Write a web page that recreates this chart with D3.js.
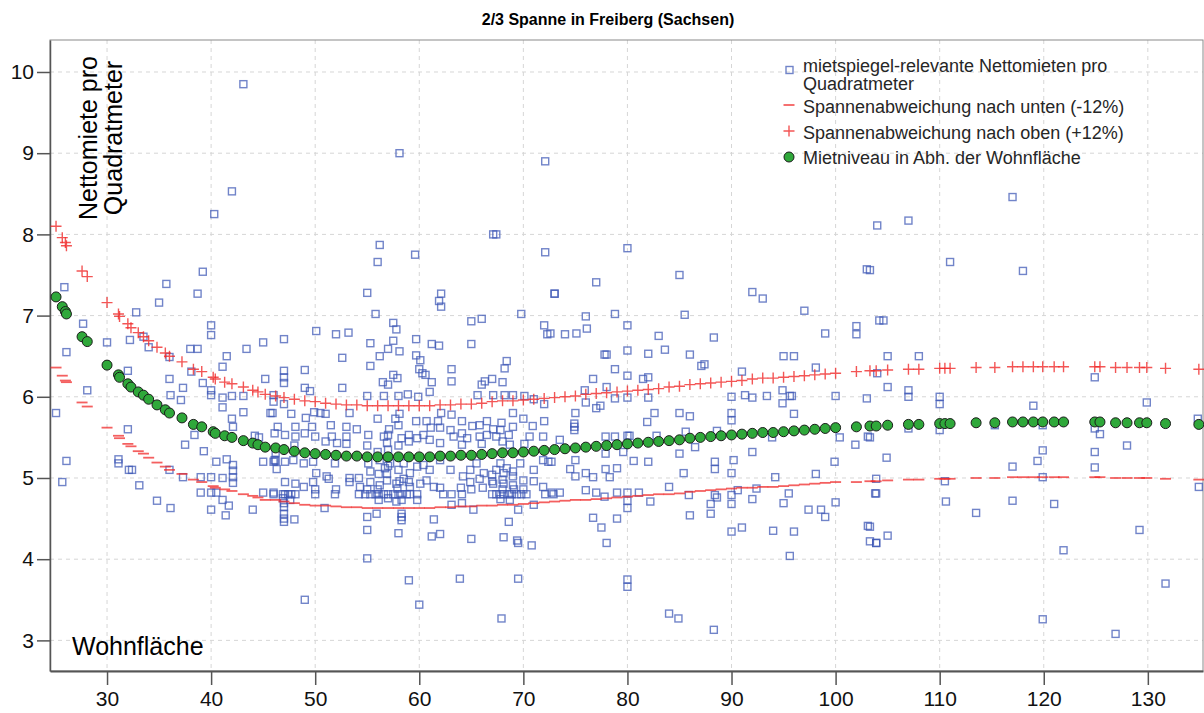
<!DOCTYPE html>
<meta charset="utf-8">
<style>
body { margin: 0; background: #fff; }
svg { font-family: "Liberation Sans", Arial, sans-serif; }
.grid line { stroke: #d6d6d6; stroke-dasharray: 4,4; }
.axis path, .axis line { stroke: #555; }
.axis text { fill: #111; font-size: 21px; }
.scatter rect { fill: none; stroke: #3a55b4; stroke-opacity: 0.72; stroke-width: 1.4; }
.upper path { stroke: #f02b2b; stroke-opacity: 0.8; stroke-width: 1.4; fill: none; }
.lower path { stroke: #f02b2b; stroke-opacity: 0.75; stroke-width: 1.8; fill: none; }
.fit circle { fill: #2fa83a; stroke: #1b1b1b; stroke-width: 1; }
.legend text { fill: #262626; font-size: 18px; }
</style>
<svg width="1204" height="713"></svg>
<script src="https://d3js.org/d3.v7.min.js"></script>
<script>

var areaTicks = [30, 40, 50, 60, 70, 80, 90, 100, 110, 120, 130];
var rentTicks = [3, 4, 5, 6, 7, 8, 9, 10];

// observed rents per square metre: [Wohnfläche, Nettomiete/qm]
var rentPoints = [
	[43.1,9.85],[42.0,8.53],[40.3,8.25],[39.2,7.54],[58.1,9.0],[72.1,8.9],[56.2,7.87],[59.6,7.75],
	[72.1,7.78],[80.0,7.83],[67.1,8.0],[67.4,8.0],
	[25.9,7.35],[35.7,7.39],[38.7,7.27],[35.0,7.16],[32.8,7.04],[27.7,6.9],[40.0,6.88],[40.0,6.76],
	[30.0,6.67],[32.2,6.70],[33.5,6.74],[34.0,6.61],[45.0,6.67],[43.4,6.59],[38.0,6.59],[38.7,6.59],
	[41.5,6.50],[26.1,6.55],[36.0,6.49],[41.1,6.37],[32.0,6.32],[38.1,6.31],[45.2,6.22],[36.0,6.22],
	[39.2,6.17],[37.3,6.11],[28.1,6.08],[40.0,6.08],[36.1,6.02],[37.1,5.96],[40.0,6.02],[41.1,5.99],
	[42.0,6.01],[43.1,6.01],[41.1,5.87],[43.1,5.81],[45.7,5.80],[25.1,5.80],[42.0,5.73],[46.0,5.94],
	[42.1,5.63],[32.0,5.60],[38.4,5.53],[37.5,5.41],[39.3,5.33],[44.2,5.52],[44.6,5.50],[31.1,5.23],
	[31.1,5.18],[26.1,5.21],[41.5,5.23],[40.5,5.20],[42.1,5.16],[42.1,5.09],[42.1,5.01],[42.1,4.94],
	[45.0,5.20],[46.0,5.20],[32.1,5.10],[32.4,5.10],[36.0,5.10],[37.3,5.01],[39.0,5.01],[40.0,5.01],
	[41.1,5.00],[25.7,4.95],[33.1,4.91],[39.0,4.82],[40.0,4.82],[40.5,4.82],[41.1,4.73],[45.0,4.82],
	[46.0,4.82],[34.8,4.72],[36.1,4.63],[40.0,4.61],[41.4,4.54],[41.7,4.66],[44.0,4.61],[46.2,5.31],
	[46.2,5.21],[46.3,5.11],
	[56.0,7.66],[55.0,7.28],[62.1,7.27],[61.9,7.18],[62.1,7.11],[73.0,7.27],[55.8,7.02],[69.8,7.02],
	[57.5,6.91],[57.8,6.83],[65.0,6.93],[66.0,6.96],[72.0,6.88],[72.3,6.77],[50.1,6.81],[52.0,6.77],
	[53.2,6.79],[47.0,6.71],[55.3,6.66],[57.5,6.69],[59.7,6.71],[61.2,6.65],[61.9,6.63],[65.0,6.65],
	[57.0,6.59],[58.1,6.56],[56.2,6.50],[52.6,6.48],[59.7,6.51],[60.1,6.45],[68.4,6.44],[68.2,6.35],
	[55.3,6.38],[49.0,6.33],[47.0,6.32],[47.0,6.24],[47.0,6.17],[60.0,6.34],[60.3,6.29],[63.1,6.34],
	[63.1,6.19],[57.5,6.27],[57.9,6.23],[56.5,6.18],[57.0,6.15],[60.6,6.27],[61.2,6.18],[67.0,6.22],
	[66.3,6.19],[66.0,6.15],[68.0,6.18],[49.0,6.11],[49.5,6.07],[52.6,6.11],[61.0,6.06],[55.0,6.01],
	[56.6,6.01],[58.0,6.01],[58.9,6.03],[59.9,6.00],[65.6,6.02],[67.1,6.02],[68.2,6.02],[69.0,6.02],
	[70.1,6.01],[71.0,5.97],[72.0,5.91],[46.0,6.02],[47.0,5.91],[45.9,5.80],[47.7,5.79],[49.9,5.81],
	[50.5,5.80],[51.0,5.79],[53.3,5.80],[49.1,5.74],[56.0,5.73],[57.7,5.73],[58.1,5.79],[62.1,5.80],
	[63.1,5.78],[69.0,5.80],[66.5,5.70],[70.0,5.73],[72.0,5.70],[46.4,5.63],[48.1,5.63],[49.7,5.63],
	[51.5,5.65],[53.0,5.63],[59.7,5.70],[60.7,5.70],[61.8,5.70],[64.1,5.70],[65.1,5.64],[65.8,5.65],
	[67.9,5.68],[69.0,5.63],[70.9,5.64],
	[46.1,5.55],[47.1,5.53],[48.1,5.51],[49.0,5.55],[50.0,5.51],[51.6,5.51],[52.1,5.43],[53.0,5.51],
	[55.1,5.53],[56.6,5.51],[57.0,5.53],[56.9,5.43],[58.3,5.49],[59.0,5.53],[59.8,5.49],[60.4,5.53],
	[61.0,5.47],[62.0,5.43],[63.0,5.59],[63.3,5.51],[64.1,5.55],[64.1,5.41],[64.6,5.49],[65.8,5.51],
	[66.5,5.53],[67.4,5.51],[67.8,5.59],[68.6,5.53],[68.7,5.41],[70.6,5.51],[71.9,5.51],
	[46.1,5.22],[47.1,5.20],[47.9,5.22],[48.9,5.18],[49.8,5.20],[50.1,5.06],[51.1,5.02],[51.9,5.18],
	[53.3,5.00],[54.2,5.00],[55.1,5.18],[55.3,5.08],[56.2,5.22],[56.7,5.12],[57.2,5.18],[58.0,5.10],
	[58.5,5.18],[59.1,5.06],[59.8,5.14],[60.4,5.16],[61.0,5.10],[62.0,5.22],[63.0,5.10],[64.2,5.02],
	[64.9,5.10],[65.5,5.18],[66.2,5.06],[67.4,5.10],[67.8,5.18],[68.4,5.12],[69.0,5.02],[69.7,5.18],
	[71.0,5.10],[71.9,5.22],[72.4,5.20],
	[56.9,5.05],[57.0,5.15],[57.0,5.35],[57.1,5.60],[57.9,4.87],[58.0,5.40],[58.0,5.65],[58.1,4.96],
	[56.0,4.86],[56.1,5.05],[56.0,5.32],[59.0,4.95],[59.0,5.45],[68.0,4.86],[68.0,4.98],[68.1,5.06],
	[68.0,5.45],[67.0,4.96],[67.0,5.04],[67.1,5.60],[69.1,4.86],[69.0,5.08],[66.1,4.88],[66.0,5.42],
	[55.0,4.86],[55.0,5.40],[54.0,5.60],[53.0,5.42],[62.0,4.88],[62.0,5.62],[61.1,5.62],[64.0,4.88],
	[65.0,4.86],[70.0,4.86],[70.1,5.42],[71.0,4.96],[50.0,4.86],[52.0,4.86],[51.0,5.45],[48.0,5.40],
	[47.1,4.95],[48.1,4.93],[48.9,4.89],[49.8,4.95],[51.3,4.99],[53.3,4.95],[54.3,4.89],[55.3,4.95],
	[56.2,4.91],[56.9,4.97],[57.8,4.93],[58.5,4.99],[59.1,4.89],[60.1,4.93],[60.7,4.97],[61.4,4.89],
	[64.9,4.95],[65.8,4.99],[67.1,4.93],[68.1,4.93],[69.0,4.91],[70.0,4.97],[71.9,4.89],
	[46.0,4.8],[46.9,4.8],[47.1,4.8],[47.4,4.8],[47.7,4.8],[48.1,4.8],[50.0,4.8],[51.9,4.8],
	[54.2,4.8],[54.8,4.8],[55.3,4.8],[55.8,4.8],[56.1,4.8],[56.6,4.8],[57.0,4.8],[57.5,4.8],
	[58.0,4.8],[58.3,4.8],[58.8,4.8],[59.1,4.8],[59.8,4.8],[62.3,4.8],[63.1,4.8],[64.1,4.8],
	[67.0,4.8],[67.4,4.8],[67.8,4.8],[68.1,4.8],[68.6,4.8],[68.9,4.8],[69.4,4.8],[69.8,4.8],
	[70.3,4.8],[72.1,4.8],[72.9,4.8],
	[46.9,4.75],[47.6,4.73],[56.1,4.73],[57.0,4.75],[57.8,4.71],[58.3,4.73],[59.8,4.73],[67.8,4.74],
	[68.7,4.73],
	[47.0,4.69],[47.0,4.64],[47.0,4.56],[47.0,4.50],[47.0,4.46],[48.0,4.49],[50.9,4.63],[55.0,4.52],
	[55.9,4.56],[58.3,4.56],[58.3,4.52],[58.3,4.48],[61.4,4.49],[63.1,4.67],[64.1,4.69],[65.2,4.61],
	[68.6,4.46],[69.5,4.61],[71.0,4.67],[55.0,4.36],[58.0,4.32],[61.2,4.28],[62.0,4.31],[65.0,4.25],
	[68.1,4.27],[69.4,4.23],[69.5,4.20],[70.8,4.17],[55.0,4.01],[59.0,3.74],[63.9,3.76],[69.5,3.76],
	[85.0,7.50],[77.0,7.41],[103.0,7.57],[73.0,7.27],[92.0,7.29],[93.0,7.21],[97.0,7.06],[76.0,6.99],
	[76.1,6.84],[78.8,7.02],[80.0,6.88],[85.5,7.01],[74.0,6.77],[75.1,6.78],[83.0,6.75],[88.3,6.73],
	[99.0,6.78],[102.0,6.87],[102.0,6.77],[72.6,6.78],[104.2,6.94],[77.8,6.52],[78.0,6.52],[80.0,6.57],
	[82.0,6.53],[83.6,6.58],[86.0,6.52],[87.1,6.38],[87.4,6.40],[95.0,6.50],[96.0,6.50],[91.0,6.31],
	[98.1,6.36],[78.8,6.34],[80.0,6.26],[76.7,6.22],[81.5,6.22],[82.0,6.24],[75.9,6.08],[78.0,6.12],
	[76.0,5.93],[77.0,5.86],[77.4,5.89],[78.8,5.98],[80.0,5.99],[82.0,5.99],[90.0,6.00],[91.3,6.02],
	[92.0,5.99],[93.4,6.01],[94.9,6.08],[94.9,5.92],[95.6,6.01],[95.8,6.01],[100.0,6.01],[103.0,5.98],
	[75.0,5.80],[74.9,5.67],[74.9,5.63],[74.9,5.59],[82.6,5.80],[85.0,5.80],[86.0,5.76],[81.9,5.69],
	[90.0,5.80],[90.0,5.71],[96.0,5.79],[73.5,5.47],[77.9,5.51],[78.8,5.51],[80.0,5.52],[80.2,5.52],
	[82.8,5.52],[85.6,5.57],[88.6,5.58],[93.9,5.50],[100.4,5.50],[103.1,5.51],[101.9,5.41],
	[72.7,5.20],[75.0,5.22],[77.9,5.30],[79.6,5.32],[80.6,5.21],[82.0,5.20],[85.0,5.30],[86.5,5.38],
	[88.4,5.20],[90.2,5.22],[92.0,5.32],[99.9,5.20],
	[74.5,5.11],[75.0,5.02],[76.0,5.06],[76.7,5.01],[77.9,5.11],[78.3,5.01],[79.0,5.12],[85.4,5.06],
	[88.4,5.11],[90.0,5.06],[94.2,5.01],[98.1,5.05],
	[72.7,4.82],[73.5,4.82],[76.0,4.85],[77.0,4.82],[77.8,4.77],[79.0,4.82],[80.0,4.82],[81.1,4.82],
	[84.0,4.89],[85.9,4.79],[88.4,4.79],[88.6,4.76],[90.0,4.79],[90.6,4.85],[92.4,4.87],[92.0,4.74],
	[95.5,4.81],[103.8,4.81],
	[80.0,4.72],[80.0,4.63],[82.2,4.71],[88.0,4.68],[90.0,4.68],[95.0,4.69],[100.0,4.70],
	[76.7,4.51],[79.0,4.50],[86.0,4.54],[88.0,4.56],[97.4,4.61],[98.6,4.61],[99.0,4.52],
	[77.5,4.39],[78.0,4.20],[90.0,4.34],[91.0,4.39],[94.0,4.35],[96.0,4.34],[103.1,4.41],[103.3,4.22],
	[103.9,4.20],[95.6,4.04],
	[117.0,8.46],[104.0,8.11],[107.0,8.17],[111.0,7.66],[118.0,7.55],[103.3,7.56],[104.6,6.94],
	[105.0,6.50],[108.0,6.50],[105.0,6.12],[107.0,6.08],[107.0,6.00],[110.0,6.00],[110.0,5.91],
	[124.9,6.24],[119.0,5.89],[129.9,5.93],[134.8,5.73],[104.0,6.29],[103.3,5.50],[104.9,5.25],
	[115.3,5.65],[107.0,5.61],[110.0,5.59],[119.9,5.65],[124.9,5.61],[125.4,5.54],[119.9,5.34],
	[128.0,5.40],[119.4,5.21],[124.9,5.32],[124.9,5.13],[117.0,5.14],[103.9,4.99],[110.5,4.96],
	[119.9,5.01],[134.9,4.89],[103.9,4.81],[110.6,4.71],[117.0,4.72],[121.0,4.68],[113.5,4.57],
	[129.2,4.36],[103.3,4.40],[105.0,4.29],[103.9,4.20],[121.9,4.11],
	[131.7,3.70],[80.0,3.75],[80.0,3.66],[49.0,3.50],[60.0,3.44],[67.9,3.27],[84.0,3.33],[84.9,3.27],
	[88.3,3.13],[119.9,3.26],[126.9,3.08]
];

// Mietniveau in Abh. der Wohnfläche (fitted rent level)
var fitArea = [25.1, 25.7, 26.0, 26.1, 27.6, 28.1, 30.0, 31.1, 31.2, 32.0, 32.3, 33.0, 33.5, 34.0, 34.8,
	35.6, 36.0, 37.2, 38.3, 39.1, 40.2, 40.4, 41.3, 42.0, 43.1, 44.0, 44.5, 45.2, 46.2, 47, 48, 49, 50,
	51, 52, 53, 54, 55, 56, 57, 58, 59, 60, 61, 62, 63, 64, 65, 66, 67, 68, 69, 70, 71, 72, 73, 74, 75,
	76, 77, 78, 79, 80, 81, 82, 83, 84, 85, 86, 87, 88, 89, 90, 91, 92, 93, 94, 95, 96, 97, 98, 99, 100,
	102, 103.3, 103.9, 105.0, 107.0, 108.0, 110.0, 110.5, 111.0, 113.5, 115.3, 117.0, 118.0, 119.0,
	119.9, 121.0, 121.9, 124.9, 125.4, 126.9, 128.0, 129.2, 129.9, 131.7, 134.9];
var fitRent = [7.23, 7.11, 7.05, 7.02, 6.74, 6.68, 6.39, 6.27, 6.24, 6.16, 6.12, 6.06, 6.02, 5.97, 5.90,
	5.84, 5.80, 5.74, 5.66, 5.63, 5.57, 5.55, 5.52, 5.50, 5.46, 5.43, 5.41, 5.38, 5.37, 5.35, 5.33, 5.31, 5.30,
	5.29, 5.28, 5.27, 5.27, 5.26, 5.26, 5.26, 5.26, 5.26, 5.26, 5.26, 5.27, 5.27, 5.28, 5.28, 5.29, 5.30, 5.31, 5.31, 5.32, 5.33, 5.34, 5.35, 5.36, 5.37,
	5.38, 5.39, 5.40, 5.41, 5.42, 5.43, 5.44, 5.45, 5.46, 5.47, 5.49, 5.50, 5.51, 5.52, 5.53, 5.54, 5.55, 5.56, 5.56, 5.57, 5.58, 5.59, 5.60, 5.61, 5.62,
	5.63, 5.64, 5.64, 5.65, 5.66, 5.66, 5.67, 5.67, 5.67, 5.68, 5.68, 5.69, 5.69, 5.69,
	5.69, 5.69, 5.69, 5.69, 5.69, 5.68, 5.68, 5.68, 5.68, 5.67, 5.66];
// Spannenabweichung nach oben (+12%)
var upperRent = [8.10, 7.96, 7.90, 7.86, 7.55, 7.48, 7.16, 7.02, 6.99, 6.90, 6.85, 6.79, 6.74, 6.69, 6.61,
	6.54, 6.50, 6.43, 6.34, 6.31, 6.24, 6.22, 6.18, 6.16, 6.12, 6.08, 6.06, 6.03, 6.01, 5.99, 5.97, 5.95, 5.94,
	5.92, 5.91, 5.90, 5.90, 5.89, 5.89, 5.89, 5.89, 5.89, 5.89, 5.89, 5.90, 5.90, 5.91, 5.91, 5.92, 5.94, 5.95, 5.95, 5.96, 5.97, 5.98, 5.99, 6.00, 6.01,
	6.03, 6.04, 6.05, 6.06, 6.07, 6.08, 6.09, 6.10, 6.12, 6.13, 6.15, 6.16, 6.17, 6.18, 6.19, 6.20, 6.22, 6.23, 6.23, 6.24, 6.25, 6.26, 6.27, 6.28, 6.29,
	6.31, 6.32, 6.32, 6.33, 6.34, 6.34, 6.35, 6.35, 6.35, 6.36, 6.36, 6.37, 6.37, 6.37,
	6.37, 6.37, 6.37, 6.37, 6.37, 6.36, 6.36, 6.36, 6.36, 6.35, 6.34];
// Spannenabweichung nach unten (-12%)
var lowerRent = [6.36, 6.26, 6.20, 6.18, 5.93, 5.88, 5.62, 5.52, 5.49, 5.42, 5.39, 5.33, 5.30, 5.25, 5.19,
	5.14, 5.10, 5.05, 4.98, 4.95, 4.90, 4.88, 4.86, 4.84, 4.80, 4.78, 4.76, 4.73, 4.73, 4.71, 4.69, 4.67, 4.66,
	4.66, 4.65, 4.64, 4.64, 4.63, 4.63, 4.63, 4.63, 4.63, 4.63, 4.63, 4.64, 4.64, 4.65, 4.65, 4.66, 4.66, 4.67, 4.67, 4.68, 4.69, 4.70, 4.71, 4.72, 4.73,
	4.73, 4.74, 4.75, 4.76, 4.77, 4.78, 4.79, 4.80, 4.80, 4.81, 4.83, 4.84, 4.85, 4.86, 4.87, 4.88, 4.88, 4.89, 4.89, 4.90, 4.91, 4.92, 4.93, 4.94, 4.95,
	4.95, 4.96, 4.96, 4.97, 4.98, 4.98, 4.99, 4.99, 4.99, 5.00, 5.00, 5.01, 5.01, 5.01,
	5.01, 5.01, 5.01, 5.01, 5.01, 5.00, 5.00, 5.00, 5.00, 4.99, 4.98];

var legendLabels = [
	["mietspiegel-relevante Nettomieten pro", "Quadratmeter"],
	["Spannenabweichung nach unten (-12%)"],
	["Spannenabweichung nach oben (+12%)"],
	["Mietniveau in Abh. der Wohnfläche"]
];

var margin = {top: 40, right: 1, bottom: 42, left: 50};
var width = 1204 - margin.left - margin.right,
    height = 713 - margin.top - margin.bottom;

var svg = d3.select("svg");

svg.append("text")
	.attr("x", 608)
	.attr("y", 25)
	.attr("text-anchor", "middle")
	.style("font-weight", "bold")
	.style("font-size", "16px")
	.text("2/3 Spanne in Freiberg (Sachsen)");

var g = svg.append("g")
	.attr("transform", "translate(" + margin.left + "," + margin.top + ")");

var x = d3.scaleLinear().domain([24.52, 135.3]).range([0, width]),
	y = d3.scaleLinear().domain([2.623, 10.394]).range([height, 0]);

// dashed grid
var grid = g.append("g").attr("class", "grid");
grid.selectAll(".gx").data(areaTicks).enter().append("line")
	.attr("x1", function(d) { return x(d); }).attr("x2", function(d) { return x(d); })
	.attr("y1", 0).attr("y2", height);
grid.selectAll(".gy").data(rentTicks).enter().append("line")
	.attr("y1", function(d) { return y(d); }).attr("y2", function(d) { return y(d); })
	.attr("x1", 0).attr("x2", width);

// frame
g.append("rect")
	.attr("width", width).attr("height", height)
	.attr("fill", "none").attr("stroke", "#8a8a8a").attr("stroke-width", 1);

g.append("g")
	.attr("class", "axis")
	.attr("transform", "translate(0," + height + ")")
	.call(d3.axisBottom(x).tickValues(areaTicks).tickSize(14).tickSizeOuter(0).tickPadding(6))
	.call(function(a) { a.select(".domain").attr("stroke-width", 2); a.selectAll("line").attr("stroke-width", 1.5); });

g.append("g")
	.attr("class", "axis")
	.call(d3.axisLeft(y).tickValues(rentTicks).tickSize(13).tickSizeOuter(0).tickPadding(3))
	.call(function(a) { a.select(".domain").attr("stroke-width", 1.5); a.selectAll("line").attr("stroke-width", 1.5); });

// observations
g.append("g").attr("class", "scatter")
	.selectAll("rect")
	.data(rentPoints)
	.enter().append("rect")
		.attr("x", function(d) { return x(d[0]) - 3.5; })
		.attr("y", function(d) { return y(d[1]) - 3.5; })
		.attr("width", 7).attr("height", 7);

g.append("g").attr("class", "lower")
	.selectAll("path")
	.data(d3.range(fitArea.length))
	.enter().append("path")
		.attr("transform", function(i) { return "translate(" + x(fitArea[i]) + "," + y(lowerRent[i]) + ")"; })
		.attr("d", "M-5.5,0H5.5");

g.append("g").attr("class", "upper")
	.selectAll("path")
	.data(d3.range(fitArea.length))
	.enter().append("path")
		.attr("transform", function(i) { return "translate(" + x(fitArea[i]) + "," + y(upperRent[i]) + ")"; })
		.attr("d", "M-5.5,0H5.5M0,-5.5V5.5");

g.append("g").attr("class", "fit")
	.selectAll("circle")
	.data(d3.range(fitArea.length))
	.enter().append("circle")
		.attr("cx", function(i) { return x(fitArea[i]); })
		.attr("cy", function(i) { return y(fitRent[i]); })
		.attr("r", 5);

// axis titles inside the plot
var yTitle = g.append("text")
	.attr("transform", "translate(47,98) rotate(-90)")
	.attr("text-anchor", "middle")
	.style("font-size", "25px")
	.attr("fill", "#000");
yTitle.append("tspan").attr("x", 0).attr("y", 0).text("Nettomiete pro");
yTitle.append("tspan").attr("x", 0).attr("y", 25).text("Quadratmeter");

g.append("text")
	.attr("x", 22).attr("y", 615)
	.style("font-size", "25px")
	.attr("fill", "#000")
	.text("Wohnfläche");

// legend
var legend = svg.append("g").attr("class", "legend");
var rows = [70, 105, 131, 157];
var baselines = [72, 113, 139, 164];

legend.append("rect").attr("x", 786).attr("y", rows[0] - 3.5).attr("width", 7).attr("height", 7)
	.attr("fill", "none").attr("stroke", "#3a55b4").attr("stroke-opacity", 0.72).attr("stroke-width", 1.4);
legend.append("path").attr("transform", "translate(789," + rows[1] + ")").attr("d", "M-5.5,0H5.5")
	.attr("stroke", "#f02b2b").attr("stroke-opacity", 0.75).attr("stroke-width", 1.8);
legend.append("path").attr("transform", "translate(789," + rows[2] + ")").attr("d", "M-5.5,0H5.5M0,-5.5V5.5")
	.attr("stroke", "#f02b2b").attr("stroke-opacity", 0.8).attr("stroke-width", 1.4);
legend.append("circle").attr("cx", 789).attr("cy", rows[3]).attr("r", 5)
	.attr("fill", "#2fa83a").attr("stroke", "#1b1b1b");

legendLabels.forEach(function(lines, i) {
	var t = legend.append("text").attr("x", 803).attr("y", baselines[i]);
	lines.forEach(function(s, j) {
		t.append("tspan").attr("x", 803).attr("dy", j === 0 ? 0 : 18).text(s);
	});
});

</script>
